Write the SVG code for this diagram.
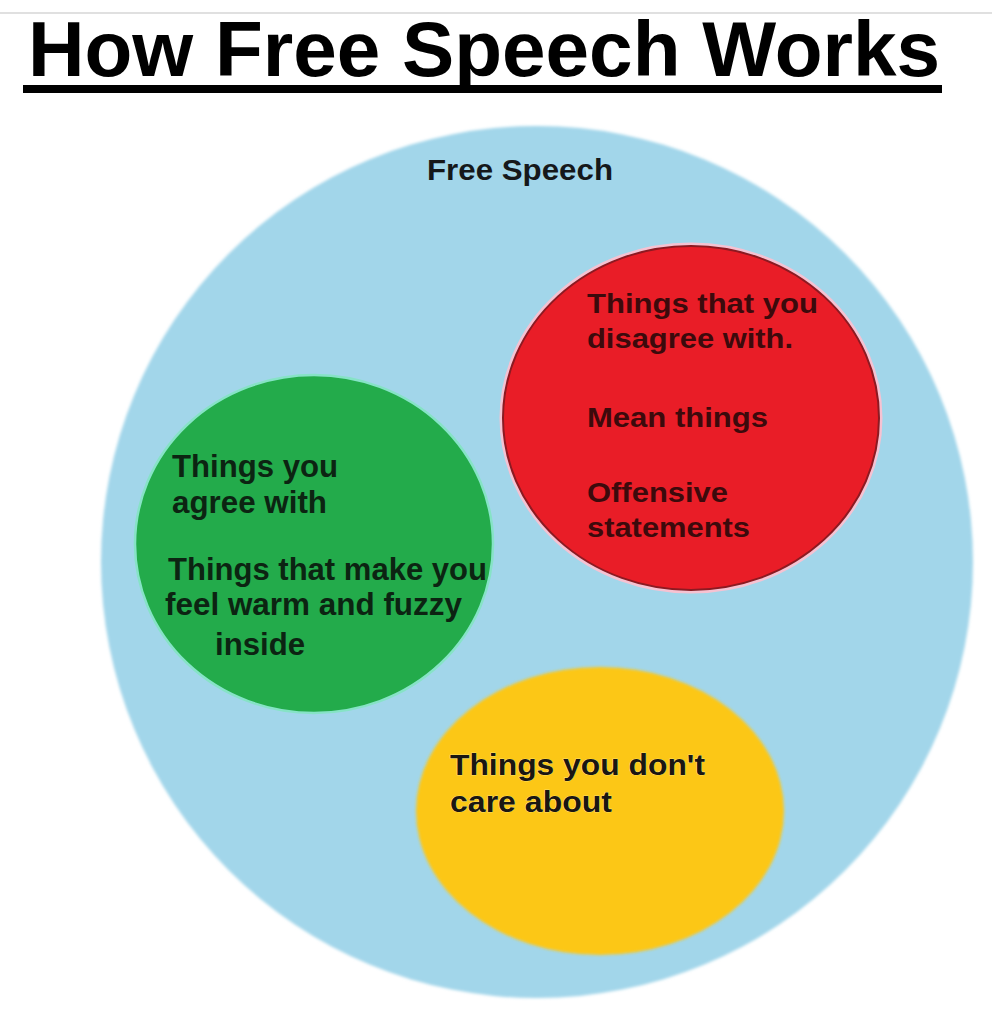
<svg xmlns="http://www.w3.org/2000/svg" width="992" height="1024" viewBox="0 0 992 1024">
  <defs>
    <filter id="soft" x="-10%" y="-10%" width="120%" height="120%">
      <feGaussianBlur stdDeviation="1.6"/>
    </filter>
    <style>
      text { font-family: "Liberation Sans", Arial, sans-serif; font-weight: bold; }
      .title { font-size: 78px; fill: #000; }
      .lbl { fill: #15181a; }
      .g { font-size: 31px; fill: #0c2412; }
      .r { font-size: 28px; fill: #3c0a0c; }
      .y { font-size: 30px; fill: #1a1612; stroke: #fff3b0; stroke-width: 0.6px; paint-order: stroke; }
    </style>
  </defs>
  <rect width="992" height="1024" fill="#ffffff"/>
  <line x1="0" y1="13" x2="992" y2="13" stroke="#d6d6d6" stroke-width="1.5"/>

  <g id="title">
    <text class="title" x="28" y="76" textLength="912" lengthAdjust="spacingAndGlyphs">How Free Speech Works</text>
    <rect x="23" y="85" width="919" height="8" fill="#000"/>
  </g>

  <g id="free-speech">
    <circle cx="537" cy="562" r="436" fill="#a2d6ea" filter="url(#soft)"/>
    <text class="lbl" x="427" y="180" font-size="30" textLength="186" lengthAdjust="spacingAndGlyphs">Free Speech</text>
  </g>

  <g id="agree">
    <ellipse cx="314" cy="544" rx="179" ry="169" fill="#23ab4b" stroke="#86e3c6" stroke-width="2.5"/>
    <text class="g" x="172" y="477" textLength="166" lengthAdjust="spacingAndGlyphs">Things you</text>
    <text class="g" x="172" y="513" textLength="155" lengthAdjust="spacingAndGlyphs">agree with</text>
    <text class="g" x="168" y="580" textLength="319" lengthAdjust="spacingAndGlyphs">Things that make you</text>
    <text class="g" x="165" y="615" textLength="297" lengthAdjust="spacingAndGlyphs">feel warm and fuzzy</text>
    <text class="g" x="215" y="655" textLength="90" lengthAdjust="spacingAndGlyphs">inside</text>
  </g>

  <g id="disagree">
    <ellipse cx="691" cy="418" rx="190" ry="174" fill="none" stroke="#f6c2d2" stroke-width="3"/>
    <ellipse cx="691" cy="418" rx="188" ry="172" fill="#e91d27" stroke="#8c1a22" stroke-width="2"/>
    <text class="r" x="587" y="313" textLength="231" lengthAdjust="spacingAndGlyphs">Things that you</text>
    <text class="r" x="587" y="348" textLength="206" lengthAdjust="spacingAndGlyphs">disagree with.</text>
    <text class="r" x="587" y="427" textLength="181" lengthAdjust="spacingAndGlyphs">Mean things</text>
    <text class="r" x="587" y="502" textLength="141" lengthAdjust="spacingAndGlyphs">Offensive</text>
    <text class="r" x="587" y="537" textLength="163" lengthAdjust="spacingAndGlyphs">statements</text>
  </g>

  <g id="dont-care">
    <ellipse cx="600" cy="811" rx="184" ry="144" fill="#fcc713" filter="url(#soft)"/>
    <text class="y" x="450" y="775" textLength="255" lengthAdjust="spacingAndGlyphs">Things you don't</text>
    <text class="y" x="450" y="812" textLength="162" lengthAdjust="spacingAndGlyphs">care about</text>
  </g>

  <g id="connectors"></g>
</svg>
